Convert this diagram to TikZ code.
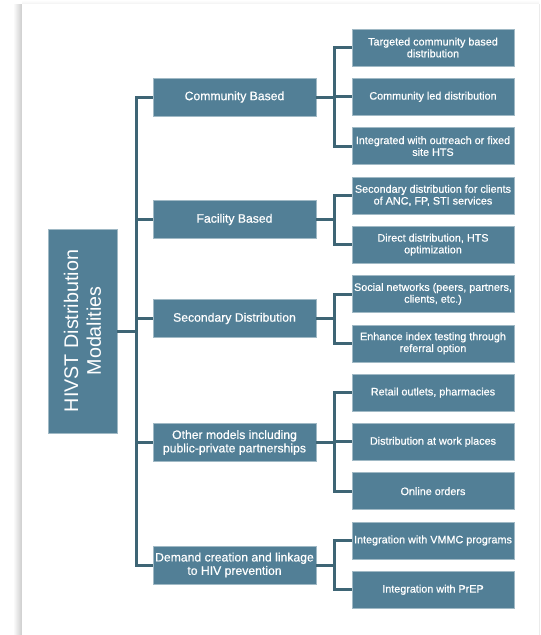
\documentclass[tikz,border=0pt]{standalone}
\usepackage{fontspec}
\setmainfont{Liberation Sans}
\newfontfamily\boxfont[FakeBold=0.6]{Liberation Sans}
\definecolor{boxteal}{RGB}{82,127,150}
\definecolor{lineteal}{RGB}{62,101,117}
\tikzset{
    % Box styles
    tealbox/.style={rectangle, draw=boxteal!55!white, line width=0.6pt, fill=boxteal,
                    text=white, align=center, inner xsep=1pt, inner ysep=0pt},
    rootbox/.style={tealbox, minimum width=204pt, minimum height=69pt,
                    font=\fontsize{19.7}{22.7}\selectfont},
    modebox/.style={tealbox, minimum width=163pt, minimum height=38pt,
                    font=\boxfont\fontsize{12.2}{13.4}\selectfont},
    itembox/.style={tealbox, minimum width=162pt, minimum height=37pt,
                    font=\boxfont\fontsize{10.8}{11.8}\selectfont},
    % Connector style
    link/.style={draw=lineteal, line width=3pt},
}

\begin{document}
\begin{tikzpicture}[x=1pt, y=-1pt]
    % Page and card
    \useasboundingbox (0,0) rectangle (541,635);
    \fill[white] (0,0) rectangle (541,635);
    \shade[left color=white, right color=black!20] (13,4) rectangle (22,635);
    \shade[top color=white, bottom color=black!5] (22,0) rectangle (539,4);
    \fill[white] (22,4) rectangle (539,635);
    \draw[black!8, line width=1pt] (539.5,4) -- (539.5,635);

    % Root
    \node[rootbox, rotate=90] (root) at (82.5,331) {HIVST Distribution\\Modalities};

    % Distribution modes
    \node[modebox] (cb) at (234.5,97) {Community Based};
    \node[modebox] (fb) at (234.5,219.5) {Facility Based};
    \node[modebox] (sd) at (234.5,318.5) {Secondary Distribution};
    \node[modebox] (om) at (234.5,442.5) {Other models including\\public-private partnerships};
    \node[modebox] (dc) at (234.5,565) {Demand creation and linkage\\to HIV prevention};

    % Items
    \foreach \n/\t [count=\i from 0] in {
        tcd/{Targeted community based\\distribution},
        cld/{Community led distribution},
        iwo/{Integrated with outreach or fixed\\site HTS},
        sdc/{Secondary distribution for clients\\of ANC, FP, STI services},
        ddh/{Direct distribution, HTS\\optimization},
        snw/{Social networks (peers, partners,\\clients, etc.)},
        eit/{Enhance index testing through\\referral option},
        rop/{Retail outlets, pharmacies},
        dwp/{Distribution at work places},
        ono/{Online orders},
        ivm/{Integration with VMMC programs},
        ipr/{Integration with PrEP}} {
        \node[itembox] (\n) at (433, 47.5+49.3*\i) {\t};
    }

    % Trunk
    \coordinate (trunk) at (136,0);
    \coordinate (bx) at (334,0);
    \draw[link] (root.south) -- (root.south -| trunk);
    \draw[link] (cb.west) -| (trunk |- dc.west) -- (dc.west);
    \foreach \n in {fb, sd, om} \draw[link] (trunk |- \n.west) -- (\n.west);

    % Brackets
    \foreach \m/\a/\b in {cb/tcd/iwo, fb/sdc/ddh, sd/snw/eit, om/rop/ono, dc/ivm/ipr} {
        \draw[link] (\m.east) -- (bx |- \m.east);
        \draw[link] (\a.west) -| (bx |- \b.west) -- (\b.west);
    }
    \foreach \n in {cld, dwp} \draw[link] (bx |- \n.west) -- (\n.west);
\end{tikzpicture}
\end{document}
